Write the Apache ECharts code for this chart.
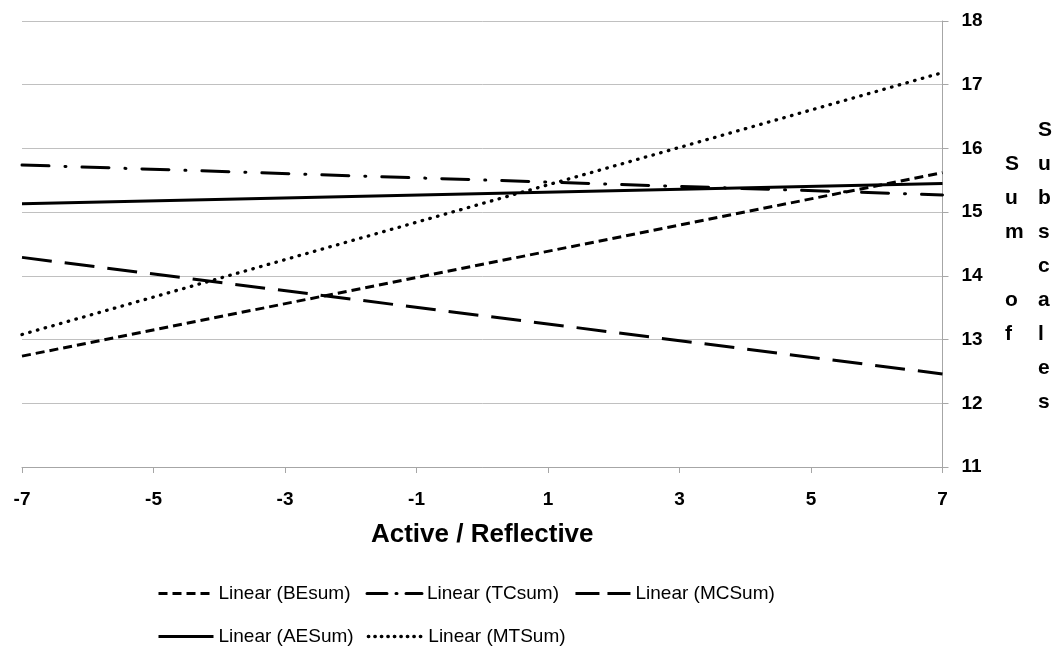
<!DOCTYPE html>
<html>
<head>
<meta charset="utf-8">
<script src="https://cdn.jsdelivr.net/npm/echarts@6/dist/echarts.min.js"></script>
<style>
  html, body { margin: 0; padding: 0; background: #ffffff; }
  #chart { width: 1057px; height: 655px; }
</style>
</head>
<body>
<div id="chart"></div>
<script>
// ---- data ----
const xValues = [-7, 7];
const beSum = [12.74, 15.62];
const tcSum = [15.74, 15.27];
const mcSum = [14.29, 12.46];
const aeSum = [15.13, 15.45];
const mtSum = [13.08, 17.19];
const seriesNames = ['Linear (BEsum)', 'Linear (TCsum)', 'Linear (MCSum)', 'Linear (AESum)', 'Linear (MTSum)'];
const xAxisRange = { min: -7, max: 7, interval: 2 };
const yAxisRange = { min: 11, max: 18, interval: 1 };
const xTitle = 'Active / Reflective';
const yTitleCol1 = ['S', 'u', 'm', ' ', 'o', 'f'];
const yTitleCol2 = ['S', 'u', 'b', 's', 'c', 'a', 'l', 'e', 's'];

const valueSets = [beSum, tcSum, mcSum, aeSum, mtSum];
const dashStyles = [
  { type: [9, 5], cap: 'butt', width: 3 },
  { type: [27, 16, 1, 16], cap: 'round', width: 3 },
  { type: [30, 13], cap: 'butt', width: 3 },
  { type: 'solid', cap: 'butt', width: 3 },
  { type: [0.5, 7.5], cap: 'round', width: 3.3 }
];
// shorter dash patterns so the legend samples show the full pattern
const legendDash = [
  [9, 5],
  [20, 9, 1, 9],
  [24, 8],
  'solid',
  [0.5, 6]
];

const chart = echarts.init(document.getElementById('chart'), null, { renderer: 'canvas' });

const series = seriesNames.map((name, i) => ({
  name: name,
  type: 'line',
  data: xValues.map((x, j) => [x, valueSets[i][j]]),
  symbol: 'none',
  silent: true,
  animation: false,
  lineStyle: {
    color: '#000000',
    width: dashStyles[i].width,
    type: dashStyles[i].type,
    cap: dashStyles[i].cap
  },
  itemStyle: { color: '#000000' }
}));

const legendItems = seriesNames.map((name, i) => ({
  name: name,
  lineStyle: { type: legendDash[i], width: dashStyles[i].width, cap: dashStyles[i].cap, color: '#000000' }
}));

const legendText = { fontFamily: '"Liberation Sans", Arial, sans-serif', fontSize: 19, color: '#000000' };

const option = {
  backgroundColor: '#ffffff',
  animation: false,
  grid: {
    left: 22, right: 114.5, top: 21, bottom: 188,
    containLabel: false,
    outerBoundsMode: 'none'
  },
  xAxis: {
    type: 'value',
    min: xAxisRange.min, max: xAxisRange.max, interval: xAxisRange.interval,
    name: xTitle,
    nameLocation: 'middle',
    nameGap: 55,
    nameTextStyle: { fontFamily: '"Liberation Sans", Arial, sans-serif', fontWeight: 'bold', fontSize: 26, color: '#000000' },
    axisLine: { show: true, onZero: false, lineStyle: { color: '#a6a6a6', width: 1 } },
    axisTick: { show: true, inside: false, length: 6, lineStyle: { color: '#a6a6a6' } },
    axisLabel: { fontFamily: '"Liberation Sans", Arial, sans-serif', fontWeight: 'bold', fontSize: 19, color: '#000000', margin: 23 },
    splitLine: { show: false }
  },
  yAxis: {
    type: 'value',
    position: 'right',
    min: yAxisRange.min, max: yAxisRange.max, interval: yAxisRange.interval,
    axisLine: { show: true, onZero: false, lineStyle: { color: '#a6a6a6', width: 1 } },
    axisTick: { show: true, inside: false, length: 6, lineStyle: { color: '#a6a6a6' } },
    axisLabel: { fontFamily: '"Liberation Sans", Arial, sans-serif', fontWeight: 'bold', fontSize: 19, color: '#000000', margin: 19 },
    splitLine: { show: true, lineStyle: { color: '#c0c0c0', width: 1 } }
  },
  legend: [
    {
      data: legendItems.slice(0, 3),
      left: 157, top: 584, padding: 0,
      orient: 'horizontal',
      itemWidth: 55, itemHeight: 14, itemGap: 15,
      itemStyle: { opacity: 0 },
      textStyle: legendText,
      selectedMode: false
    },
    {
      data: legendItems.slice(3),
      left: 157, top: 627, padding: 0,
      orient: 'horizontal',
      itemWidth: 55, itemHeight: 14, itemGap: 13,
      itemStyle: { opacity: 0 },
      textStyle: legendText,
      selectedMode: false
    }
  ],
  graphic: [
    {
      type: 'text',
      left: 1005, top: 147,
      silent: true,
      style: {
        text: yTitleCol1.join('\n'),
        font: 'bold 21px "Liberation Sans", Arial, sans-serif',
        lineHeight: 34,
        fill: '#000000',
        align: 'center'
      }
    },
    {
      type: 'text',
      left: 1038, top: 113,
      silent: true,
      style: {
        text: yTitleCol2.join('\n'),
        font: 'bold 21px "Liberation Sans", Arial, sans-serif',
        lineHeight: 34,
        fill: '#000000',
        align: 'center'
      }
    }
  ],
  series: series
};

chart.setOption(option);
</script>
</body>
</html>
